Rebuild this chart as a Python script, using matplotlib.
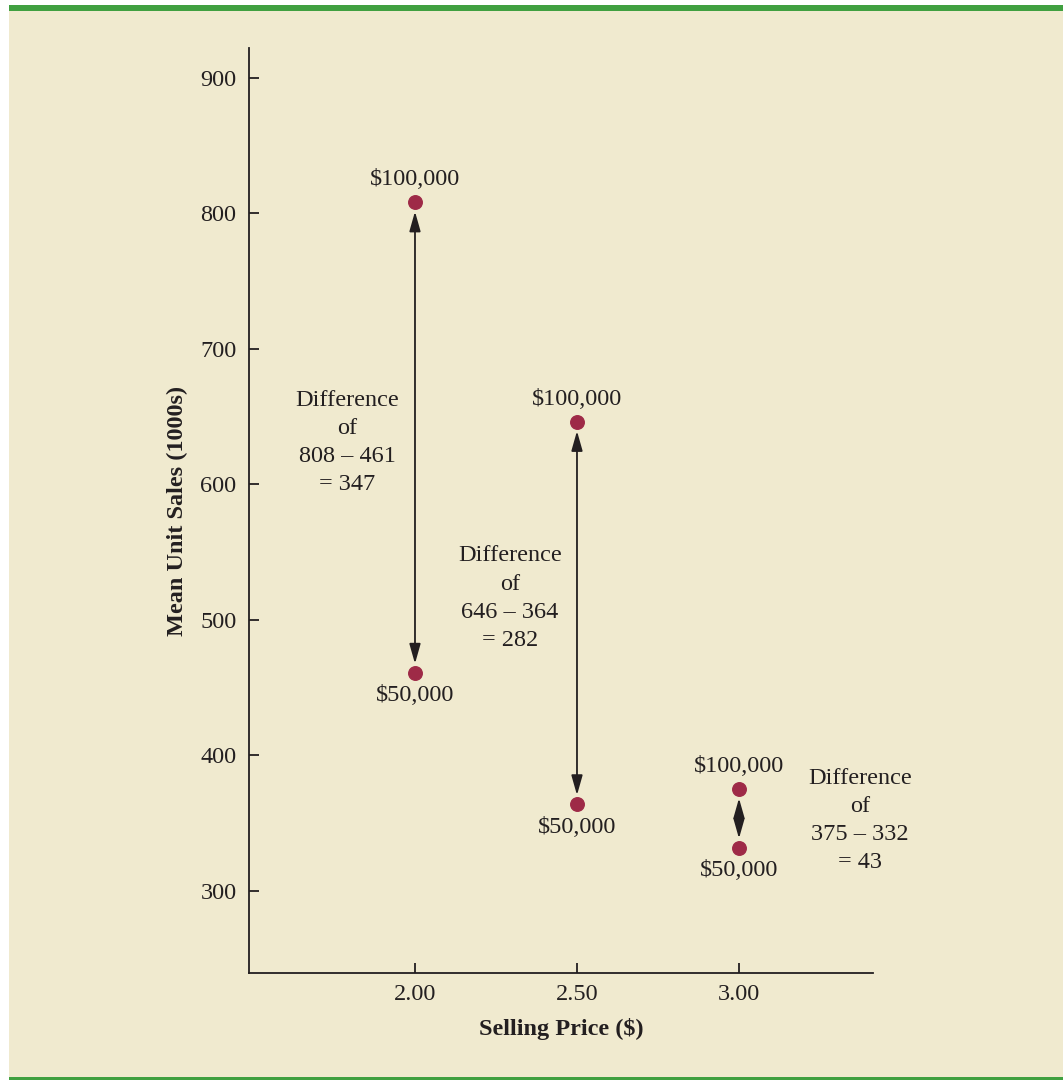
import matplotlib
matplotlib.use("Agg")
import matplotlib.pyplot as plt
from matplotlib.patches import Rectangle

prices = [2.00, 2.50, 3.00]
sales_100k = [808, 646, 375]
sales_50k = [461, 364, 332]
label_high = "\\$100,000"
label_low = "\\$50,000"
diff_texts = ["Difference\nof\n808 – 461\n= 347",
              "Difference\nof\n646 – 364\n= 282",
              "Difference\nof\n375 – 332\n= 43"]
diff_pos = [(1.79, 631), (2.293, 516), (3.373, 352)]
yticks = [300, 400, 500, 600, 700, 800, 900]
xticks = [2.00, 2.50, 3.00]

plt.rcParams['font.family'] = ['Liberation Serif', 'DejaVu Serif']
panel = '#F0EACF'
green = '#40A040'
ink = '#231F20'
dot = '#9E2A47'
fs = 17.5

fig = plt.figure(figsize=(10.63, 10.80), dpi=100)
fig.patch.set_facecolor('white')
fig.patches.append(Rectangle((9/1063, 0), 1 - 9/1063, 1 - 5/1080, transform=fig.transFigure,
                             facecolor=panel, edgecolor='none', zorder=-10))
fig.patches.append(Rectangle((9/1063, 1 - 11/1080), 1 - 9/1063, 6/1080, transform=fig.transFigure,
                             facecolor=green, edgecolor='none', zorder=-5))
fig.patches.append(Rectangle((9/1063, 0), 1 - 9/1063, 3/1080, transform=fig.transFigure,
                             facecolor=green, edgecolor='none', zorder=-5))

ax = fig.add_axes([249/1063, 1 - 973/1080, (873 - 249)/1063, (973 - 48)/1080])
ax.set_facecolor('none')
ax.set_xlim(1.4877, 3.4136)
ax.set_ylim(239.4, 922)
for s in ['top', 'right']:
    ax.spines[s].set_visible(False)
for s in ['left', 'bottom']:
    ax.spines[s].set_linewidth(1.3)
    ax.spines[s].set_color(ink)

ax.set_yticks(yticks)
ax.set_xticks(xticks)
ax.set_xticklabels([f"{v:.2f}" for v in xticks])
ax.tick_params(direction='in', length=7, width=1.3, color=ink, labelsize=fs,
               labelcolor=ink)
ax.tick_params(axis='y', pad=9)
ax.tick_params(axis='x', pad=8)

ax.set_xlabel("Selling Price (\\$)", fontsize=fs, fontweight='bold', color=ink, labelpad=9)
ax.set_ylabel("Mean Unit Sales (1000s)", fontsize=fs, fontweight='bold', color=ink, labelpad=9)

ax.scatter(prices, sales_100k, s=95, color=dot, zorder=5, clip_on=False)
ax.scatter(prices, sales_50k, s=95, color=dot, zorder=5, clip_on=False)

for x, hi, lo in zip(prices, sales_100k, sales_50k):
    ax.annotate("", xy=(x, hi), xytext=(x, lo),
                arrowprops=dict(arrowstyle='<|-|>,head_length=0.6,head_width=0.17',
                                mutation_scale=20, color=ink, lw=1.3,
                                shrinkA=6.5, shrinkB=6.5))
    ax.annotate(label_high, xy=(x, hi), xytext=(0, 16.5), textcoords='offset points',
                ha='center', va='center', fontsize=fs, color=ink)
    ax.annotate(label_low, xy=(x, lo), xytext=(0, -16.5), textcoords='offset points',
                ha='center', va='center', fontsize=fs, color=ink)

for (x, y), t in zip(diff_pos, diff_texts):
    ax.text(x, y, t, ha='center', va='center', fontsize=fs, color=ink,
            linespacing=1.45)

fig.savefig("out.png", dpi=100, facecolor=fig.get_facecolor())
